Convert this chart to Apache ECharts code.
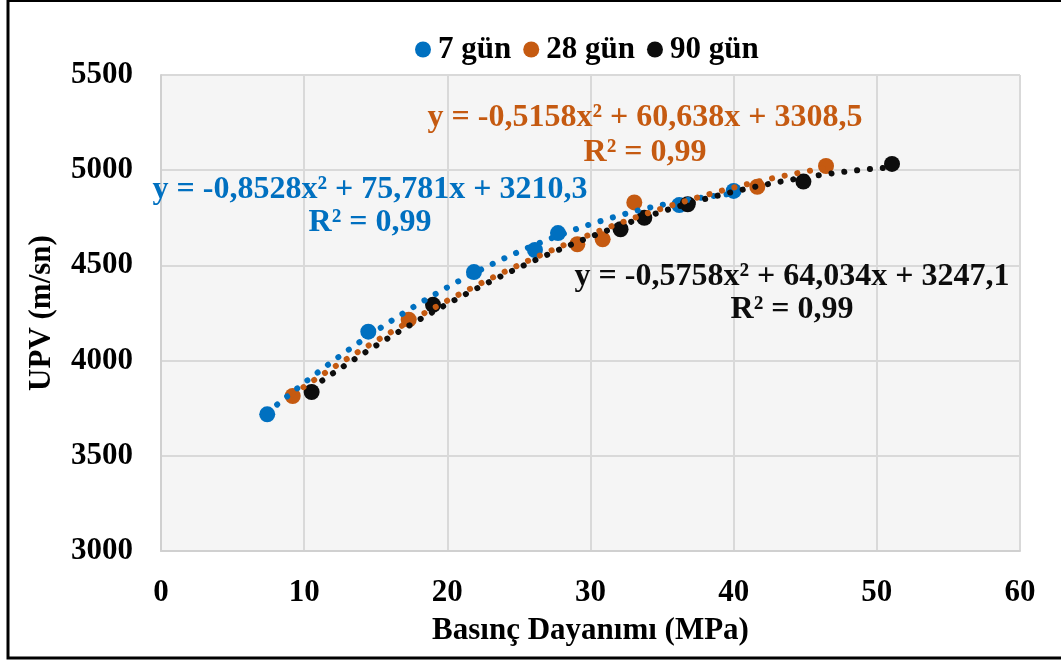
<!DOCTYPE html>
<html>
<head>
<meta charset="utf-8">
<script src="https://cdn.jsdelivr.net/npm/echarts@6/dist/echarts.min.js"></script>
<style>html,body{margin:0;padding:0;background:#fff}#c{width:1061px;height:661px}</style>
</head>
<body>
<div id="c"></div>
<script>
// Data
const seriesNames = ['7 gün', '28 gün', '90 gün'];
const x7 = [7.42, 14.48, 21.86, 26.12, 27.73, 36.2, 40.0];
const y7 = [3718, 4152, 4465, 4581, 4670, 4817, 4891];
const x28 = [9.2, 17.3, 29.08, 30.85, 33.06, 41.65, 46.45];
const y28 = [3814, 4215, 4611, 4637, 4831, 4913, 5022];
const x90 = [10.52, 19.0, 32.1, 33.76, 36.79, 44.87, 51.06];
const y90 = [3835, 4293, 4690, 4750, 4821, 4940, 5033];
// Polynomial trendline coefficients shown on the chart [a, b, c] for y = a x^2 + b x + c
const coef7 = [-0.8528, 75.781, 3210.3];
const coef28 = [-0.5158, 60.638, 3308.5];
const coef90 = [-0.5758, 64.034, 3247.1];
const eqText = [
  ['y = -0,8528x² + 75,781x + 3210,3', 'R² = 0,99'],
  ['y = -0,5158x² + 60,638x + 3308,5', 'R² = 0,99'],
  ['y = -0,5758x² + 64,034x + 3247,1', 'R² = 0,99']
];
const xTicks = [0, 60, 10];
const yTicks = [3000, 5500, 500];
const colors = ['#0070C0', '#C55A11', '#0D0D0D'];

function zip(xs, ys){ return xs.map((v,i)=>[v, ys[i]]); }
function trend(coef, xs){
  const lo = Math.min(...xs), hi = Math.max(...xs);
  const pts = [];
  const n = 200;
  for (let i=0;i<=n;i++){
    const x = lo + (hi-lo)*i/n;
    pts.push([x, coef[0]*x*x + coef[1]*x + coef[2]]);
  }
  return pts;
}
const FONT = '"Liberation Serif", "Times New Roman", serif';
const chart = echarts.init(document.getElementById('c'), null, {renderer:'canvas'});
const scatterData = [zip(x7,y7), zip(x28,y28), zip(x90,y90)];
const coefs = [coef7, coef28, coef90];
const xsAll = [x7, x28, x90];
const series = [];
for (let i=0;i<3;i++){
  series.push({
    name: seriesNames[i], type:'scatter', data: scatterData[i],
    symbol:'circle', symbolSize:16, itemStyle:{color:colors[i], opacity:1}, z:2
  });
}
for (let i=0;i<3;i++){
  series.push({
    name: seriesNames[i]+' trend', type:'line', data: trend(coefs[i], xsAll[i]),
    showSymbol:false, symbol:'none', silent:true, z:3,
    lineStyle:{color:colors[i], width:6, type:[0.1, 12.8], cap:'round'}
  });
}
const eqPos = [[370, 190, 223], [645, 118, 153], [792, 277, 310]];
const graphics = [{
  type:'rect', shape:{x:8, y:0.5, width:1070, height:657.5},
  style:{fill:'none', stroke:'#000', lineWidth:3}, z:100
}];
for (let i=0;i<3;i++){
  graphics.push({type:'text', x:eqPos[i][0], y:eqPos[i][1], z:50,
    style:{text:eqText[i][0], fill:colors[i], font:'bold 32px '+FONT, textAlign:'center', textVerticalAlign:'middle'}});
  graphics.push({type:'text', x:eqPos[i][0], y:eqPos[i][2], z:50,
    style:{text:eqText[i][1], fill:colors[i], font:'bold 32px '+FONT, textAlign:'center', textVerticalAlign:'middle'}});
}
chart.setOption({
  animation:false,
  backgroundColor:'#fff',
  color: colors,
  legend:{
    data: seriesNames, left:410, top:29, icon:'circle', itemWidth:16, itemHeight:16, itemGap:12,
    textStyle:{fontFamily:FONT, fontWeight:'bold', fontSize:31, color:'#000', padding:[0,0,0,2]}
  },
  grid:{left:161, right:41, top:75, bottom:110, show:true, backgroundColor:'#f5f5f5', borderWidth:0},
  xAxis:{
    type:'value', min:xTicks[0], max:xTicks[1], interval:xTicks[2],
    name:'Basınç Dayanımı (MPa)', nameLocation:'middle', nameGap:64,
    nameTextStyle:{fontFamily:FONT, fontWeight:'bold', fontSize:31, color:'#000'},
    axisLine:{show:true, lineStyle:{color:'#d0d0d0', width:2}},
    axisTick:{show:false},
    axisLabel:{fontFamily:FONT, fontWeight:'bold', fontSize:31, color:'#000', margin:26},
    splitLine:{show:true, lineStyle:{color:'#d9d9d9', width:2}}
  },
  yAxis:{
    type:'value', min:yTicks[0], max:yTicks[1], interval:yTicks[2],
    name:'UPV (m/sn)', nameLocation:'middle', nameGap:104, nameRotate:90,
    nameTextStyle:{fontFamily:FONT, fontWeight:'bold', fontSize:31, color:'#000'},
    axisLine:{show:true, lineStyle:{color:'#d0d0d0', width:2}},
    axisTick:{show:false},
    axisLabel:{fontFamily:FONT, fontWeight:'bold', fontSize:31, color:'#000', margin:28,
      formatter: v => String(v)},
    splitLine:{show:true, lineStyle:{color:'#d9d9d9', width:2}}
  },
  series: series,
  graphic: graphics
});
</script>
</body>
</html>
